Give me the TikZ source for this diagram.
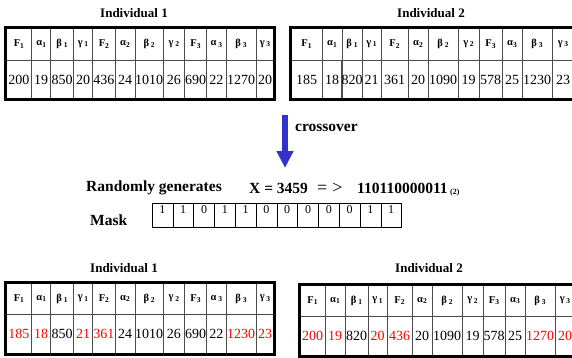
\documentclass[tikz,border=0pt]{standalone}
\usepackage{fontspec}
\setmainfont{Liberation Serif}
\usetikzlibrary{arrows.meta,positioning,fit}

\definecolor{arrowblue}{RGB}{51,51,204}
\newcommand{\hl}[1]{\textcolor{red}{#1}}
\newcommand{\idx}[1]{\raisebox{-0.25ex}{\fontsize{7.5}{7.5}\selectfont#1}}

% one chromosome: #1 name, #2 top, #3 row split, #4 bottom, #5 left/right/head/value
\newcommand{\chromtable}[5]{%
  \foreach \l/\r/\h/\v [count=\i] in {#5} {
    \node[headcell, minimum width=\r-\l, minimum height=#3-#2] (#1h\i) at ({(\l+\r)/2}, {(#2+#3)/2}) {\h};
    \node[valcell, minimum width=\r-\l, minimum height=#4-#3] (#1v\i) at ({(\l+\r)/2}, {(#3+#4)/2}) {\v};
  }
  \node[frame, fit=(#1h1)(#1v12)] (#1) {};
}

\begin{document}
\begin{tikzpicture}[
    x=1pt, y=-1pt,
    title/.style={font=\fontsize{13}{13}\selectfont\bfseries, inner sep=0pt},
    label_node/.style={font=\fontsize{15.5}{16}\selectfont\bfseries, inner sep=0pt, anchor=west},
    headcell/.style={draw=black!70, line width=0.7pt, inner sep=0pt, font=\fontsize{10.5}{10.5}\selectfont\bfseries},
    valcell/.style={draw=black!70, line width=0.7pt, inner sep=0pt, font=\fontsize{14}{14}\selectfont},
    frame/.style={draw, line width=3pt, inner sep=0pt},
    maskcell/.style={draw, line width=0.6pt, minimum width=20.8, inner sep=1pt, text height=9.5pt, text depth=12.5pt, anchor=north west, font=\fontsize{12}{12}\selectfont},
    arrow/.style={-{Triangle[length=17pt, width=16pt]}, line width=5.5pt, draw=arrowblue}
]
    \clip (0,0) rectangle (572,357);
    \fill[white] (0,0) rectangle (572,357);

    % Parents
    \node[title] (par1) at (134,13) {Individual 1};
    \node[title] (par2) at (431,13) {Individual 2};

    \chromtable{p1}{28}{60}{99}{6/31.7/F\idx{1}/200, 31.7/50.7/α\idx{1}/19, 50.7/73.3/β\,\idx{1}/850,
      73.3/92.7/γ\,\idx{1}/20, 92.7/115/F\idx{2}/436, 115/135/α\idx{2}/24, 135/163.3/β\,\idx{2}/1010,
      163.3/184.3/γ\,\idx{2}/26, 184.3/206.7/F\idx{3}/690, 206.7/226/α\,\idx{3}/22, 226/256/β\,\idx{3}/1270,
      256/274/γ\,\idx{3}/20}
    \chromtable{p2}{28}{60}{99}{291/322/F\idx{1}/185, 322/342/α\idx{1}/18, 342/362/β\,\idx{1}/820,
      362/381/γ\,\idx{1}/21, 381/408/F\idx{2}/361, 408/428/α\idx{2}/20, 428/458/β\,\idx{2}/1090,
      458/479/γ\,\idx{2}/19, 479/502/F\idx{3}/578, 502/522/α\idx{3}/25, 522/552/β\,\idx{3}/1230,
      552/574/γ\,\idx{3}/23}

    % Crossover step
    \coordinate (arrtop) at (285,115);
    \coordinate (arrtip) at (285,168);
    \draw[arrow] (arrtop) -- (arrtip);
    \node[label_node] (cross) at (295,128) {crossover};

    \node[label_node] (rand) at (86,188) {Randomly generates};
    \node[label_node] (xval) at (249,188) {X = 3459};
    \node[label_node, font=\fontsize{18}{18}\selectfont] (implies) at (317,188) {=\hspace{5pt}>};
    \node[label_node] (bits) at (357,188) {110110000011};
    \node[label_node, font=\fontsize{8}{8}\selectfont\bfseries] (base) at (450,193) {(2)};

    % Mask
    \foreach \b [count=\i] in {1,1,0,1,1,0,0,0,0,0,1,1}
        \node[maskcell] (m\i) at ({151.7+20.8*(\i-1)}, 202.7) {\b};
    \node[label_node] (mask) at (90,220) {Mask};

    % Offspring
    \node[title] (off1) at (124,268) {Individual 1};
    \node[title] (off2) at (429,268) {Individual 2};

    \chromtable{c1}{283}{314}{354}{6/31.7/F\idx{1}/\hl{185}, 31.7/50.7/α\idx{1}/\hl{18}, 50.7/73.3/β\,\idx{1}/850,
      73.3/92.7/γ\,\idx{1}/\hl{21}, 92.7/115/F\idx{2}/\hl{361}, 115/135/α\idx{2}/24, 135/163.3/β\,\idx{2}/1010,
      163.3/184.3/γ\,\idx{2}/26, 184.3/206.7/F\idx{3}/690, 206.7/226/α\,\idx{3}/22, 226/256/β\,\idx{3}/\hl{1230},
      256/274/γ\,\idx{3}/\hl{23}}
    \chromtable{c2}{285}{316}{356}{300/325/F\idx{1}/\hl{200}, 325/345/α\idx{1}/\hl{19}, 345/368/β\,\idx{1}/820,
      368/387/γ\,\idx{1}/\hl{20}, 387/412/F\idx{2}/\hl{436}, 412/432/α\idx{2}/20, 432/462/β\,\idx{2}/1090,
      462/483/γ\,\idx{2}/19, 483/505/F\idx{3}/578, 505/525/α\idx{3}/25, 525/555/β\,\idx{3}/\hl{1270},
      555/575/γ\,\idx{3}/\hl{20}}
\end{tikzpicture}
\end{document}
